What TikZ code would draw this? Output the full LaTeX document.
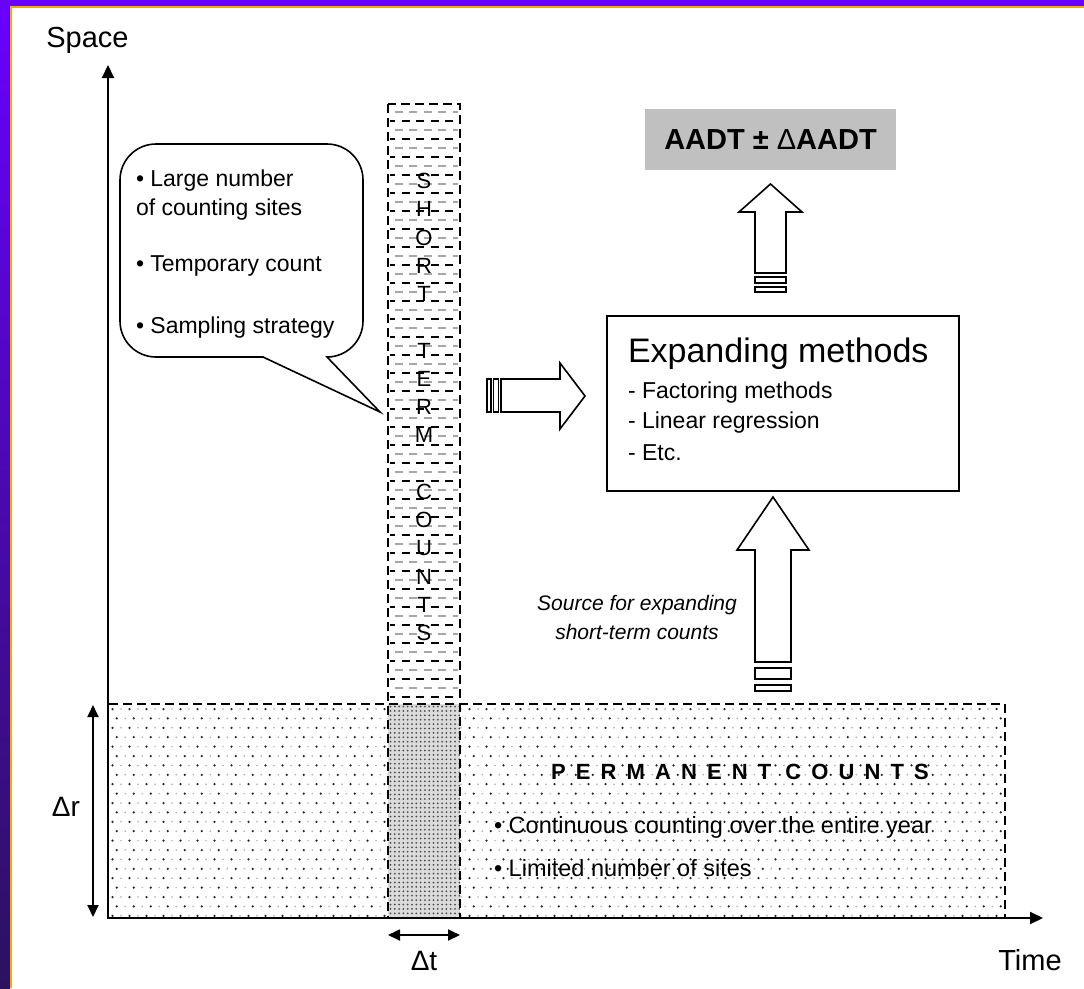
\documentclass[tikz,border=0pt]{standalone}
\usepackage{fontspec}
\setmainfont{Liberation Sans}
\usetikzlibrary{arrows.meta}

\definecolor{frameviolet}{HTML}{6A00FF}
\definecolor{framenavy}{HTML}{2A1260}
\definecolor{frameorange}{HTML}{FFA500}
\definecolor{aadtgray}{HTML}{C0C0C0}

\newcommand\setfs[2]{\fontsize{#1}{#2}\selectfont}

\tikzset{
  txt/.style={inner sep=0pt, outer sep=0pt},
  axis/.style={line width=2pt, -{Triangle[length=13pt,width=12pt]}},
  span/.style={line width=1.8pt, {Triangle[length=12pt,width=11pt]}-{Triangle[length=12pt,width=11pt]}},
  dashbox/.style={line width=2.2pt, dash pattern=on 9pt off 5pt},
  blockarrow/.style={draw, line width=1.6pt, fill=white, line join=miter},
  stripe/.style={draw, line width=1.4pt, fill=white},
}

\begin{document}
\begin{tikzpicture}[x=1pt,y=-1pt]
\useasboundingbox (0,0) rectangle (1084,988);

% slide frame
\fill[frameviolet] (0,0) rectangle (1084,7);
\shade[top color=frameviolet, bottom color=framenavy] (0,0) rectangle (10,988);
\fill[white] (10,7) rectangle (1084,988);
\draw[frameorange, line width=1.6pt] (10.8,988) -- (10.8,6.8) -- (1084,6.8);

% permanent counts: dotted area
\foreach \r in {0,...,22}{
  \pgfmathsetmacro\yy{709+\r*9.4}
  \pgfmathsetmacro\sh{mod(\r,2)*4.25}
  \foreach \c in {0,...,104}{
    \pgfmathsetmacro\xx{112.5+\c*8.5+\sh}
    \ifodd\c
      \fill[gray!65] (\xx,\yy) circle (0.85);
    \else
      \fill[black!85] (\xx,\yy) circle (1.25);
    \fi
  }
}

% overlap of both campaigns: dense dots
\fill[gray!28] (388,704) rectangle (460,918);
\foreach \r in {0,...,48}{
  \foreach \c in {0,...,16}{
    \fill[black!70] (390.5+\c*4.3, 706.5+\r*4.4) circle (1.0);
  }
}

% short-term counts: rows of dashes
\foreach \i in {0,...,65}{
  \pgfmathsetmacro\yy{112+\i*9}
  \ifodd\i
    \draw[black, line width=1.8pt, dash pattern=on 8pt off 6.5pt, dash phase=3pt] (390,\yy) -- (458,\yy);
  \else
    \draw[gray!70, line width=1.5pt, dash pattern=on 8pt off 6.5pt, dash phase=10pt] (390,\yy) -- (458,\yy);
  \fi
}

% borders of the two counting areas
\draw[dashbox] (108,704) rectangle (1005,918);
\draw[dashbox] (388,104) rectangle (460,918);

% vertical title of the column
\foreach \ch [count=\k from 0] in {S,H,O,R,T,{},T,E,R,M,{},C,O,U,N,T,S}{
  \node[txt, font=\setfs{22}{24}] (st\k) at (424,181+\k*28.25) {\ch};
}

% axes
\coordinate (O) at (108,918);
\coordinate (ytop) at (108,65);
\coordinate (xend) at (1043,918);
\draw[axis] (O) -- (ytop);
\draw[axis] (O) -- (xend);
\node[txt, font=\setfs{29}{34}] (space) at (87.5,40) {Space};
\node[txt, font=\setfs{29}{34}] (time) at (1030,960) {Time};

% extent markers
\coordinate (rtop) at (93,705);
\coordinate (rbot) at (93,917);
\draw[span] (rtop) -- (rbot);
\node[txt, font=\setfs{28}{32}] (dr) at (66,807) {Δr};
\coordinate (tl) at (388,935);
\coordinate (tr) at (460,935);
\draw[span] (tl) -- (tr);
\node[txt, font=\setfs{28}{32}] (dt) at (424,961) {Δt};

% speech bubble
\draw[line width=1.6pt, fill=white, line join=miter]
  (120,180) arc[start angle=180, end angle=270, radius=36]
  -- (327,144) arc[start angle=270, end angle=360, radius=36]
  -- (363,321) arc[start angle=0, end angle=90, radius=36]
  -- (380,412) -- (263,357)
  -- (156,357) arc[start angle=90, end angle=180, radius=36]
  -- cycle;
\begin{scope}[every node/.style={txt, anchor=base west, font=\setfs{23}{28}}]
  \node (b1) at (136,186) {• Large number};
  \node (b2) at (136,215) {of counting sites};
  \node (b3) at (136,271) {• Temporary count};
  \node (b4) at (136,333) {• Sampling strategy};
\end{scope}

% arrow into the expanding methods
\draw[blockarrow] (501,379) -- (560,379) -- (560,363) -- (585,396) -- (560,429) -- (560,412) -- (501,412) -- cycle;
\draw[stripe] (487,379) rectangle (491,412);
\draw[stripe] (493.5,379) rectangle (498.5,412);

% expanding methods box
\node[draw, line width=1.6pt, minimum width=352pt, minimum height=175pt, anchor=north west, inner sep=0pt] (exp) at (606,315) {};
\node[txt, anchor=base west, font=\setfs{34}{38}] (exptitle) at (628,362) {Expanding methods};
\begin{scope}[every node/.style={txt, anchor=base west, font=\setfs{23}{28}}]
  \node (e1) at (628,398) {- Factoring methods};
  \node (e2) at (628,428) {- Linear regression};
  \node (e3) at (628,460) {- Etc.};
\end{scope}

% result
\node[fill=aadtgray, minimum width=251pt, minimum height=61pt, inner sep=0pt, font=\setfs{29}{34}\bfseries] (aadt) at (770.5,139.5) {AADT ± {\mdseries Δ}AADT};

% arrow from the box to the result
\draw[blockarrow] (755,273) -- (755,212) -- (739,212) -- (770.5,184) -- (802,212) -- (786,212) -- (786,273) -- cycle;
\draw[stripe] (755,277) rectangle (786,283);
\draw[stripe] (755,287) rectangle (786,292);

% arrow from the permanent counts to the box
\draw[blockarrow] (755,662) -- (755,550) -- (737,550) -- (773,497) -- (809,550) -- (791,550) -- (791,662) -- cycle;
\draw[stripe] (755,668) rectangle (791,679);
\draw[stripe] (755,685) rectangle (791,691);
\node[txt, align=center, font=\setfs{21}{29}\itshape] (src) at (637,617) {Source for expanding\\short-term counts};

% permanent counts text
\node[txt, anchor=base west, font=\setfs{22}{24}\bfseries\addfontfeature{LetterSpace=46}] (perm) at (551,779) {PERMANENT\hspace{14pt}COUNTS};
\begin{scope}[every node/.style={txt, anchor=base west, font=\setfs{23.5}{28}}]
  \node (p1) at (494,833) {• Continuous counting over the entire year};
  \node (p2) at (494,876) {• Limited number of sites};
\end{scope}
\end{tikzpicture}
\end{document}
